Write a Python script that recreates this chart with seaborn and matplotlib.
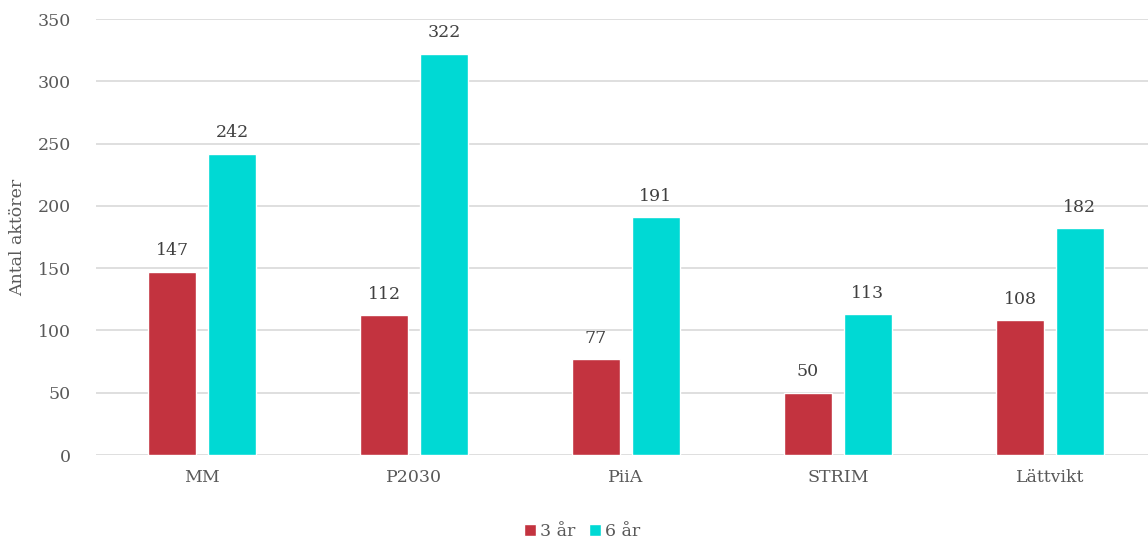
import matplotlib
matplotlib.use("Agg")
import matplotlib.pyplot as plt
import seaborn as sns
import pandas as pd

categories = ["MM", "P2030", "PiiA", "STRIM", "Lättvikt"]
series_names = ["3 år", "6 år"]
values_3 = [147, 112, 77, 50, 108]
values_6 = [242, 322, 191, 113, 182]
y_ticks = [0, 50, 100, 150, 200, 250, 300, 350]

df = pd.DataFrame({
    "Program": categories * 2,
    "Period": [series_names[0]] * len(categories) + [series_names[1]] * len(categories),
    "Antal": values_3 + values_6,
})

sns.set_theme(style="white")
plt.rcParams["font.family"] = ["DejaVu Serif"]
text_col = "#595959"
fs = 12.5

fig = plt.figure(figsize=(11.48, 5.39), dpi=100)
ax = fig.add_axes([96 / 1148, 84 / 539, (1148 - 96) / 1148, (455 - 19) / 539])

palette = {series_names[0]: "#C3333F", series_names[1]: "#00D9D4"}
sns.barplot(data=df, x="Program", y="Antal", hue="Period", palette=palette,
            width=0.566, gap=0.2, ax=ax, saturation=1, legend=True)

for cont in ax.containers:
    ax.bar_label(cont, labels=[f"{int(v)}" for v in cont.datavalues],
                 padding=9, fontsize=fs, color="#404040")

ax.set_ylim(0, 350)
ax.set_xlim(-0.5, 4.5 - 8 / 212)
ax.set_yticks(y_ticks)
ax.yaxis.grid(True, color="#d9d9d9", linewidth=1.2)
ax.set_axisbelow(True)
for s in ax.spines.values():
    s.set_visible(False)
ax.tick_params(axis="both", length=0, labelsize=fs, colors=text_col)
ax.tick_params(axis="y", pad=18)
ax.tick_params(axis="x", pad=10)
ax.set_xlabel("")
ax.set_ylabel("Antal aktörer", fontsize=fs, color=text_col)
ax.yaxis.set_label_coords(-70 / 1052, 0.5)

leg = ax.legend(loc="upper center", bbox_to_anchor=(0.462, -0.128), ncol=2,
                frameon=False, fontsize=fs, handlelength=0.7, handleheight=0.7,
                handletextpad=0.2, columnspacing=0.8, borderpad=0.2)
for t in leg.get_texts():
    t.set_color(text_col)

fig.savefig("out.png", dpi=100)
